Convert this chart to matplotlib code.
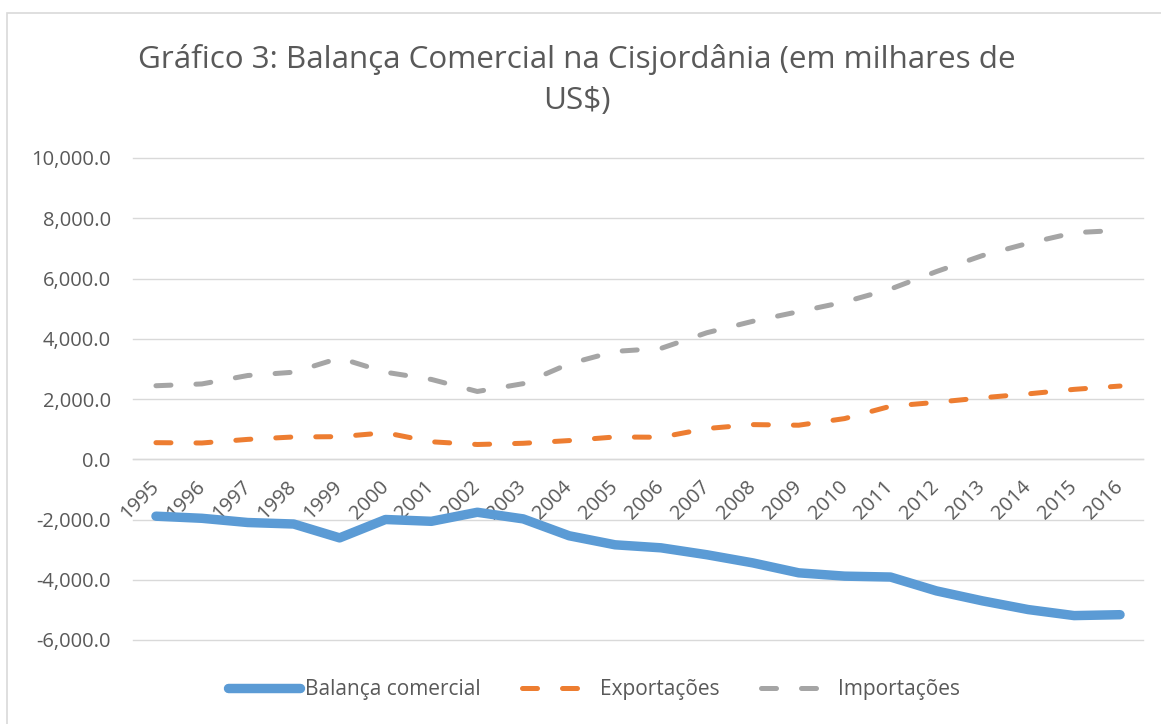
import matplotlib
matplotlib.use('Agg')
import matplotlib.pyplot as plt
from matplotlib.ticker import FuncFormatter
from matplotlib.patches import Rectangle

# Dados (em milhares de US$)
anos = ['1995', '1996', '1997', '1998', '1999', '2000', '2001', '2002', '2003', '2004', '2005',
        '2006', '2007', '2008', '2009', '2010', '2011', '2012', '2013', '2014', '2015', '2016']
balanca = [-1890, -1960, -2100, -2150, -2610, -2000, -2060, -1760, -1980, -2540, -2840,
           -2940, -3170, -3440, -3770, -3880, -3910, -4370, -4700, -4990, -5190, -5160]
exportacoes = [550, 540, 660, 740, 750, 880, 580, 490, 530, 620, 740,
               730, 1020, 1150, 1130, 1350, 1760, 1890, 2040, 2170, 2320, 2430]
importacoes = [2440, 2500, 2780, 2890, 3360, 2890, 2650, 2250, 2510, 3170, 3580,
               3680, 4200, 4580, 4900, 5220, 5650, 6230, 6760, 7170, 7520, 7600]

plt.rcParams['font.family'] = ['Open Sans', 'DejaVu Sans']
cor_texto = '#595959'
cor_grade = '#D9D9D9'

fig = plt.figure(figsize=(11.61, 7.24), dpi=100)
ax = fig.add_axes([133 / 1161, 84 / 724, 1010 / 1161, 482 / 724])

x = list(range(len(anos)))
ax.plot(x, balanca, color='#5B9BD5', lw=6.8, solid_capstyle='round', solid_joinstyle='round',
        label='Balança comercial', zorder=3)
ax.plot(x, exportacoes, color='#ED7D31', lw=3.6, dashes=(3, 5), dash_capstyle='round',
        dash_joinstyle='round', label='Exportações', zorder=3)
ax.plot(x, importacoes, color='#A5A5A5', lw=3.6, dashes=(3, 5), dash_capstyle='round',
        dash_joinstyle='round', label='Importações', zorder=3)

ax.set_xlim(-0.5, len(anos) - 0.5)
ax.set_ylim(-6000, 10000)
ax.set_yticks(range(-6000, 10001, 2000))
ax.yaxis.set_major_formatter(FuncFormatter(lambda v, p: f'{v:,.1f}'))
ax.grid(axis='y', color=cor_grade, lw=1)
ax.set_axisbelow(True)
for linha in ax.get_ygridlines():
    linha.set_clip_on(False)

for s in ['top', 'right', 'left']:
    ax.spines[s].set_visible(False)
ax.spines['bottom'].set_position(('data', 0))
ax.spines['bottom'].set_color(cor_grade)
ax.spines['bottom'].set_linewidth(1)

ax.set_xticks(x)
ax.set_xticklabels(anos)
ax.tick_params(axis='x', length=0, pad=18, labelsize=14.5, labelcolor=cor_texto)
ax.tick_params(axis='y', length=0, pad=16, labelsize=14.5, labelcolor=cor_texto)
plt.setp(ax.get_xticklabels(), rotation=45, ha='right', va='center', rotation_mode='anchor')

fig.text(0.497, 1 - 80 / 724, 'Gráfico 3: Balança Comercial na Cisjordânia (em milhares de\nUS$)',
         ha='center', va='center', fontsize=22.6, color=cor_texto, linespacing=1.5)

fig.legend(loc='center', bbox_to_anchor=(594 / 1161, 1 - 690 / 724), ncol=3, frameon=False,
           fontsize=15, labelcolor=cor_texto, handlelength=3.45, handletextpad=0.25,
           columnspacing=2.0)

# moldura do gráfico
fig.patches.append(Rectangle((7 / 1161, -0.1), 1.2, 1.1 - 13 / 724, transform=fig.transFigure,
                             fill=False, edgecolor=cor_grade, lw=1.2))

fig.savefig('out.png', dpi=100)
